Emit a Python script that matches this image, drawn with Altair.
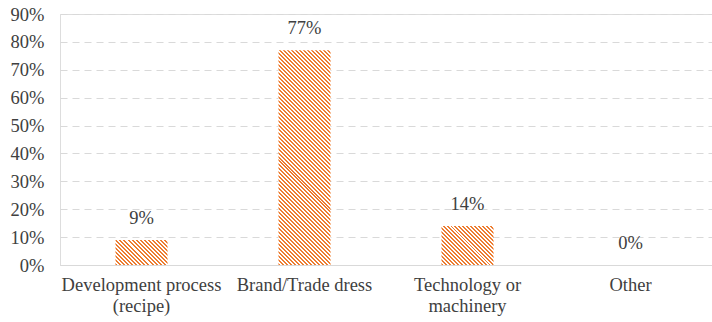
import altair as alt
import pandas as pd

categories = ["Development process\n(recipe)", "Brand/Trade dress", "Technology or\nmachinery", "Other"]
shares = [0.09, 0.77, 0.14, 0.0]
y_ticks = [0.0, 0.1, 0.2, 0.3, 0.4, 0.5, 0.6, 0.7, 0.8, 0.9]

df = pd.DataFrame({"category": categories, "share": shares})

W, H = 652, 251
BAR = 52
YMAX = 0.9
ORANGE = "#ED7D31"
FONT = "Liberation Serif"
TEXT = "#404040"
FS = 18.5


def hatch(value):
    w = BAR
    h = max(value / YMAX * H, 1.0)
    r = h / w
    k = (1 + r) / (1 + r * r)
    n = max(1, int(round((w + h) / 4.0)))
    stops = []
    for i in range(n):
        a, b, c = i / n, (i + 0.5) / n, (i + 1) / n
        stops += [
            alt.GradientStop(offset=a, color=ORANGE),
            alt.GradientStop(offset=b, color=ORANGE),
            alt.GradientStop(offset=b, color="#FFFFFF"),
            alt.GradientStop(offset=c, color="#FFFFFF"),
        ]
    return alt.LinearGradient(gradient="linear", stops=stops, x1=0, y1=1, x2=k, y2=1 - k * r)


x_enc = alt.X(
    "category:N",
    sort=categories,
    scale=alt.Scale(domain=categories, paddingInner=0, paddingOuter=0),
    axis=alt.Axis(
        title=None, labelAngle=0, labelExpr="split(datum.label, '\\n')",
        ticks=False, domain=True, domainColor="#D9D9D9", domainWidth=1,
        labelFont=FONT, labelFontSize=FS, labelColor=TEXT, labelPadding=10,
        labelLineHeight=21, grid=False,
    ),
)
y_enc = alt.Y(
    "share:Q",
    scale=alt.Scale(domain=[0, YMAX], nice=False),
    axis=alt.Axis(
        title=None, values=y_ticks, format=".0%", grid=True, gridDash=[7, 5],
        gridColor="#D9D9D9", gridWidth=1, domain=False, ticks=False,
        labelFont=FONT, labelFontSize=FS, labelColor=TEXT, labelPadding=16,
    ),
)

base = alt.Chart(df)
layers = []
for cat, val in zip(categories, shares):
    if val <= 0:
        continue
    layers.append(
        base.transform_filter(alt.datum.category == cat)
        .mark_bar(size=BAR, fill=hatch(val), strokeWidth=0)
        .encode(x=x_enc, y=y_enc)
    )

labels = base.mark_text(
    baseline="alphabetic", dy=-16, font=FONT, fontSize=FS, color=TEXT
).encode(x=x_enc, y=y_enc, text=alt.Text("share:Q", format=".0%"))
layers.append(labels)

chart = (
    alt.layer(*layers)
    .properties(
        width=W, height=H,
        padding={"left": 60, "top": 14, "right": 0, "bottom": 57},
        autosize=alt.AutoSizeParams(type="none"),
        background="white",
    )
    .configure_view(stroke=None)
    .configure(font=FONT)
)

chart.save("out.html", embed_options={"renderer": "svg", "actions": False})
